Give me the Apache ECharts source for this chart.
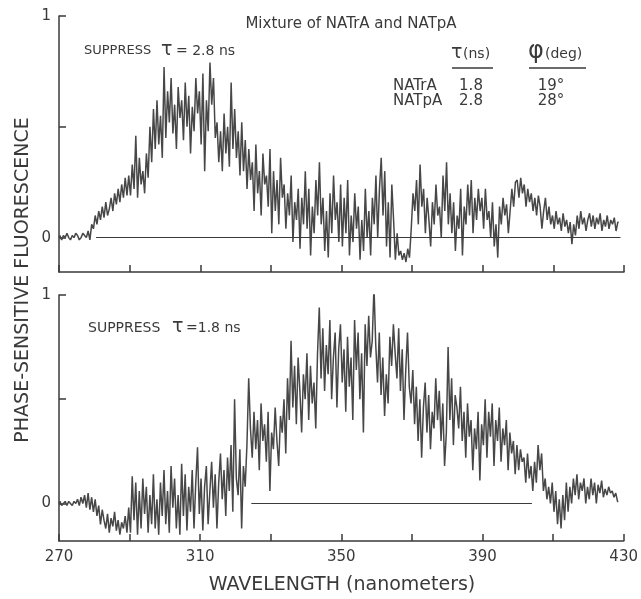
<!DOCTYPE html>
<html>
<head>
<meta charset="utf-8">
<script src="https://cdn.jsdelivr.net/npm/echarts@6/dist/echarts.min.js"></script>
<style>html,body{margin:0;padding:0;background:#fff}#c{width:641px;height:599px}</style>
</head>
<body>
<div id="c"></div>
<script>
// Wavelength sampling (nm)
var wavelengthStart = 270;
var wavelengthStep = 0.5;
var xTickValues = [270, 290, 310, 330, 350, 370, 390, 410, 430];
var xLabelValues = [270, 310, 350, 390, 430];
var yTickValues = [0, 0.5, 1];
var yLabelValues = [0, 1];

// Upper panel: suppress tau = 2.8 ns (phase-sensitive fluorescence, 270 .. 428.5 nm every 0.5 nm)
var suppress28 = [
 0.00,0.01,-0.01,0.01,0.00,0.02,0.00,-0.01,0.01,0.00,0.02,0.01,-0.01,0.00,0.02,0.01,0.00,0.03,-0.01,0.06,
 0.04,0.10,0.06,0.12,0.08,0.14,0.09,0.16,0.10,0.13,0.18,0.12,0.20,0.15,0.22,0.16,0.24,0.18,0.27,0.19,
 0.28,0.19,0.33,0.22,0.46,0.18,0.36,0.24,0.30,0.20,0.38,0.27,0.50,0.34,0.58,0.40,0.62,0.42,0.55,0.36,
 0.77,0.45,0.66,0.52,0.72,0.47,0.60,0.40,0.68,0.54,0.62,0.44,0.70,0.50,0.64,0.38,0.59,0.48,0.72,0.56,
 0.66,0.42,0.74,0.30,0.62,0.48,0.79,0.60,0.72,0.45,0.52,0.34,0.48,0.30,0.56,0.38,0.50,0.32,0.70,0.40,
 0.58,0.36,0.48,0.28,0.52,0.30,0.44,0.22,0.40,0.26,0.34,0.12,0.42,0.20,0.30,0.10,0.38,0.24,0.28,0.14,
 0.40,0.02,0.30,0.12,0.26,0.06,0.36,0.18,0.24,0.04,0.20,0.10,0.28,-0.02,0.16,0.08,0.22,-0.05,0.18,0.06,
 0.30,0.04,0.22,-0.08,0.14,0.02,0.26,0.10,0.34,0.06,0.18,-0.06,0.12,-0.09,0.20,0.02,0.28,0.08,0.16,-0.02,
 0.24,-0.04,0.18,0.02,0.26,-0.08,0.10,-0.02,0.20,0.04,0.14,-0.10,0.08,-0.06,0.22,0.00,0.12,-0.08,0.18,0.06,
 0.28,0.00,0.22,0.36,0.10,0.30,-0.04,0.16,-0.09,0.24,0.08,-0.10,0.02,-0.08,-0.06,-0.10,-0.07,-0.11,-0.05,-0.09,
 0.04,0.20,0.12,0.26,0.06,0.33,0.14,0.22,0.02,0.18,0.08,-0.04,0.16,0.06,0.24,0.10,0.14,0.00,0.28,0.12,
 0.34,0.06,0.20,0.02,0.16,-0.06,0.10,0.04,0.22,-0.08,0.14,0.06,0.24,0.10,0.26,0.02,0.18,0.08,0.22,0.12,
 0.18,0.04,0.22,0.08,0.12,0.00,0.16,-0.04,0.06,-0.09,0.14,0.06,0.18,0.10,0.15,0.02,0.12,0.22,0.14,0.25,
 0.26,0.18,0.27,0.20,0.24,0.14,0.22,0.16,0.20,0.12,0.18,0.10,0.19,0.14,0.04,0.12,0.18,0.08,0.14,0.06,
 0.10,0.04,0.12,0.06,0.09,0.03,0.11,0.05,0.08,0.02,0.07,-0.03,0.06,0.01,0.10,0.04,0.12,0.06,0.09,0.03,
 0.08,0.11,0.05,0.10,0.04,0.09,0.06,0.11,0.03,0.08,0.05,0.10,0.04,0.08,0.06,0.09,0.03,0.07
];

// Lower panel: suppress tau = 1.8 ns
var suppress18 = [
 0.00,0.01,-0.01,0.00,0.01,-0.01,0.01,0.00,-0.01,0.01,0.00,0.02,-0.01,0.03,0.00,0.04,-0.02,0.05,-0.03,0.03,
 -0.04,0.02,-0.06,-0.01,-0.10,-0.03,-0.08,-0.12,-0.05,-0.14,-0.07,-0.11,-0.04,-0.13,-0.08,-0.15,-0.09,-0.12,-0.06,-0.14,
 -0.02,-0.14,0.13,-0.08,0.10,-0.15,0.06,-0.12,0.12,-0.05,0.08,-0.14,0.04,-0.10,0.14,-0.12,0.02,-0.15,0.10,-0.06,
 0.16,-0.10,0.06,-0.14,0.18,-0.02,0.12,-0.12,0.04,-0.15,0.19,-0.06,0.14,-0.13,0.08,-0.04,0.16,-0.12,0.10,0.27,
 -0.05,0.12,-0.13,0.08,0.18,-0.10,0.06,0.20,-0.02,0.14,-0.12,0.10,0.24,0.02,0.16,-0.06,0.22,0.06,0.28,-0.04,
 0.50,0.12,0.04,0.26,-0.12,0.18,0.08,0.28,0.60,0.36,0.22,0.44,0.26,0.40,0.16,0.48,0.30,0.38,0.20,0.44,
 0.06,0.34,0.26,0.46,0.30,0.18,0.42,0.34,0.50,0.24,0.60,0.40,0.78,0.46,0.66,0.38,0.70,0.54,0.34,0.62,
 0.50,0.72,0.40,0.66,0.48,0.58,0.36,0.72,0.94,0.60,0.84,0.54,0.76,0.62,0.88,0.50,0.70,0.82,0.46,0.74,
 0.86,0.58,0.74,0.44,0.80,0.56,0.70,0.40,0.88,0.64,0.82,0.50,0.72,0.34,0.86,0.66,0.90,0.70,0.78,1.04,
 0.76,0.58,0.82,0.52,0.70,0.42,0.62,0.48,0.80,0.66,0.86,0.72,0.60,0.84,0.54,0.74,0.40,0.64,0.82,0.56,
 0.48,0.64,0.38,0.56,0.30,0.50,0.22,0.46,0.58,0.34,0.52,0.26,0.44,0.36,0.60,0.40,0.54,0.30,0.48,0.18,
 0.34,0.75,0.40,0.60,0.28,0.52,0.46,0.36,0.56,0.30,0.44,0.22,0.48,0.32,0.40,0.16,0.36,0.26,0.44,0.11,
 0.38,0.28,0.50,0.22,0.44,0.32,0.48,0.18,0.40,0.30,0.46,0.20,0.36,0.28,0.40,0.16,0.34,0.24,0.30,0.14,
 0.28,0.16,0.26,0.20,0.22,0.10,0.24,0.12,0.18,0.06,0.20,0.10,0.28,0.16,0.24,0.06,0.12,0.02,0.08,0.00,
 0.10,-0.04,0.06,-0.10,0.02,-0.12,0.04,-0.08,0.10,-0.04,0.08,0.00,0.12,0.04,0.14,0.02,0.10,0.06,0.12,0.00,
 0.08,0.02,0.12,0.04,0.10,0.00,0.09,0.05,0.11,0.03,0.07,0.04,0.08,0.05,0.06,0.03,0.05,0.01
];

// Zero reference lines (wavelength range, nm)
var baselineTop = [280.5, 429];
var baselineBottom = [324.5, 404];

function pairs(vals) {
  return vals.map(function (v, i) { return [wavelengthStart + i * wavelengthStep, v]; });
}

var ink = '#3a3a3a';
var traceColor = '#474747';
var font = 'DejaVu Sans';

function xAxis(gridIndex, showLabels) {
  return {
    type: 'value', gridIndex: gridIndex, min: 270, max: 430,
    axisLine: { show: true, onZero: false, lineStyle: { color: ink, width: 1.5 } },
    axisTick: { show: true, inside: true, length: 7, customValues: xTickValues, lineStyle: { color: ink, width: 1.5 } },
    axisLabel: { show: showLabels, customValues: xLabelValues, color: ink, fontSize: 15, fontFamily: font, margin: 9 },
    splitLine: { show: false }
  };
}
function yAxis(gridIndex, min) {
  return {
    type: 'value', gridIndex: gridIndex, min: min, max: 1,
    axisLine: { show: true, onZero: false, lineStyle: { color: ink, width: 1.5 } },
    axisTick: { show: true, inside: true, length: 7, customValues: yTickValues, lineStyle: { color: ink, width: 1.5 } },
    axisLabel: { show: true, customValues: yLabelValues, color: ink, fontSize: 15, fontFamily: font, margin: 8 },
    splitLine: { show: false }
  };
}
function trace(idx, vals, base) {
  return {
    type: 'line', xAxisIndex: idx, yAxisIndex: idx, data: pairs(vals),
    step: 'middle', showSymbol: false, symbol: 'none', animation: false,
    lineStyle: { color: traceColor, width: 1.5 },
    markLine: {
      silent: true, symbol: 'none', animation: false,
      lineStyle: { color: ink, width: 1.2, type: 'solid' }, label: { show: false },
      data: [[{ coord: [base[0], 0] }, { coord: [base[1], 0] }]]
    },
    z: 3
  };
}
function txt(x, y, text, size, align) {
  return { type: 'text', x: x, y: y, style: { text: text, fill: ink, fontSize: size, fontFamily: font, textAlign: align || 'left', textVerticalAlign: 'middle' } };
}

var chart = echarts.init(document.getElementById('c'), null, { renderer: 'canvas' });
chart.setOption({
  backgroundColor: '#fff',
  animation: false,
  grid: [
    { left: 59, right: 17, top: 16, height: 256 },
    { left: 59, right: 17, top: 295, height: 246 }
  ],
  xAxis: [xAxis(0, false), xAxis(1, true)],
  yAxis: [yAxis(0, -0.155), yAxis(1, -0.18)],
  series: [trace(0, suppress28, baselineTop), trace(1, suppress18, baselineBottom)],
  graphic: [
    txt(351, 24, 'Mixture of NATrA and NATpA', 15, 'center'),
    txt(84, 51, 'SUPPRESS', 13, 'left'),
    txt(161, 50, '\u03c4', 19, 'left'),
    txt(176, 51, '= 2.8 ns', 14, 'left'),
    txt(88, 328, 'SUPPRESS', 14, 'left'),
    txt(172, 327, '\u03c4', 19, 'left'),
    txt(186, 328, '=1.8 ns', 14, 'left'),
    txt(451, 53, '\u03c4', 19, 'left'),
    txt(463, 54, '(ns)', 14, 'left'),
    txt(528, 52, '\u03c6', 24, 'left'),
    txt(545, 54, '(deg)', 14, 'left'),
    { type: 'line', shape: { x1: 452, y1: 68, x2: 493, y2: 68 }, style: { stroke: ink, lineWidth: 1.5 } },
    { type: 'line', shape: { x1: 529, y1: 68, x2: 586, y2: 68 }, style: { stroke: ink, lineWidth: 1.5 } },
    txt(393, 86, 'NATrA', 15, 'left'),
    txt(393, 101, 'NATpA', 15, 'left'),
    txt(471, 86, '1.8', 15, 'center'),
    txt(471, 101, '2.8', 15, 'center'),
    txt(551, 86, '19\u00b0', 15, 'center'),
    txt(551, 101, '28\u00b0', 15, 'center'),
    txt(342, 585, 'WAVELENGTH (nanometers)', 19, 'center'),
    { type: 'text', x: 23, y: 280, rotation: Math.PI / 2, style: { text: 'PHASE-SENSITIVE FLUORESCENCE', fill: ink, fontSize: 19, fontFamily: font, textAlign: 'center', textVerticalAlign: 'middle' } }
  ]
});
</script>
</body>
</html>
